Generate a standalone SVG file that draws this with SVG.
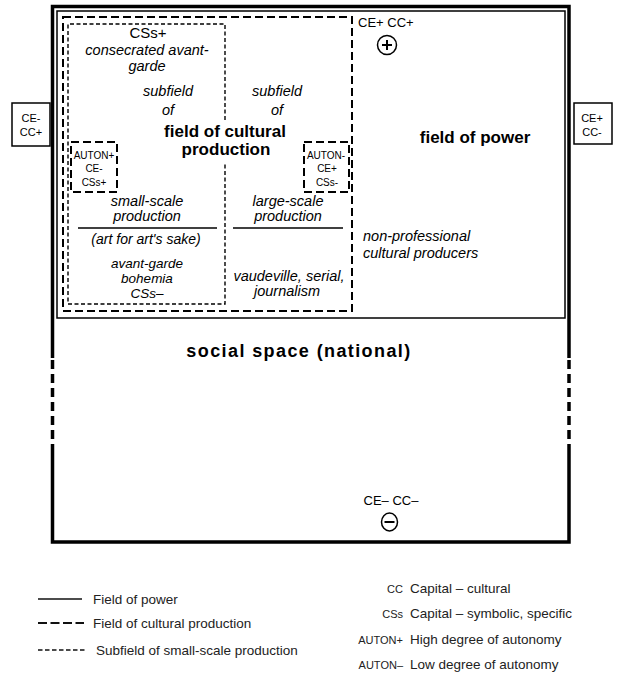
<svg xmlns="http://www.w3.org/2000/svg" width="617" height="676" viewBox="0 0 617 676">
<style>
text{font-family:"Liberation Sans",Arial,sans-serif;fill:#000}
.it{font-style:italic;font-size:14.5px}
.bd{font-weight:bold;font-size:17px}
.sm{font-size:10px}
.lab{font-size:13px}
.leg{font-size:13.5px;fill:#222}
.legs{font-size:11px;fill:#222}
.thick{fill:none;stroke:#000;stroke-width:3.5}
.thin{fill:none;stroke:#000;stroke-width:1.5}
.dash{fill:none;stroke:#000;stroke-width:2;stroke-dasharray:8 4}
.fine{fill:none;stroke:#000;stroke-width:1.4;stroke-dasharray:4 2.5}
.box{fill:#fff;stroke:#000;stroke-width:1.5}
</style>
<rect width="617" height="676" fill="#fff"/>
<g id="social-space">
  <path class="thick" d="M52.5,358 V6.5 H569 V358 M569,445 V542 H52.5 V445"/>
  <path class="thick" style="stroke-dasharray:9 5" d="M52.5,360 V445 M569,360 V445"/>
  <text class="bd" x="299" y="357" text-anchor="middle" style="font-size:18px;letter-spacing:1.4px">social space (national)</text>
  <text class="lab" x="391" y="505" text-anchor="middle">CE– CC–</text>
  <ellipse cx="389.5" cy="522" rx="8" ry="9" class="thin"/>
  <line x1="384.5" y1="522" x2="394.5" y2="522" stroke="#000" stroke-width="2"/>
</g>
<g id="field-of-power">
  <rect class="thin" x="57" y="11" width="508" height="307"/>
  <text class="bd" x="475" y="143" text-anchor="middle">field of power</text>
  <text class="lab" x="358" y="27">CE+ CC+</text>
  <circle cx="387" cy="45" r="9.5" class="thin"/>
  <path d="M382,45 H392 M387,40 V50" stroke="#000" stroke-width="2"/>
  <text class="it" x="363" y="241">non-professional</text>
  <text class="it" x="363" y="258">cultural producers</text>
</g>
<g id="field-of-cultural-production">
  <rect class="dash" x="63" y="17" width="289" height="294"/>
  <text class="bd" x="225" y="137" text-anchor="middle">field of cultural</text>
  <text class="bd" x="226" y="155" text-anchor="middle">production</text>
  <text class="it" x="277" y="96" text-anchor="middle">subfield</text>
  <text class="it" x="277" y="115" text-anchor="middle">of</text>
  <text class="it" x="288" y="206" text-anchor="middle">large-scale</text>
  <text class="it" x="288" y="221" text-anchor="middle">production</text>
  <line x1="233" y1="228" x2="343" y2="228" stroke="#000" stroke-width="1.5"/>
  <text class="it" x="289" y="281" text-anchor="middle">vaudeville, serial,</text>
  <text class="it" x="287" y="296" text-anchor="middle">journalism</text>
</g>
<g id="subfield-small-scale">
  <path class="fine" d="M225,120 V24 H68 V304 H225 V163"/>
  <text x="148" y="38" text-anchor="middle" style="font-size:15px">CSs+</text>
  <text class="it" x="147" y="55" text-anchor="middle">consecrated avant-</text>
  <text class="it" x="147" y="71" text-anchor="middle">garde</text>
  <text class="it" x="168" y="96" text-anchor="middle">subfield</text>
  <text class="it" x="168" y="115" text-anchor="middle">of</text>
  <text class="it" x="147" y="206" text-anchor="middle">small-scale</text>
  <text class="it" x="147" y="221" text-anchor="middle">production</text>
  <line x1="78" y1="228" x2="217" y2="228" stroke="#000" stroke-width="1.5"/>
  <text class="it" x="146" y="244" text-anchor="middle" style="font-size:14px">(art for art's sake)</text>
  <text class="it" x="147" y="268" text-anchor="middle" style="font-size:13.5px">avant-garde</text>
  <text class="it" x="147" y="283" text-anchor="middle" style="font-size:13.5px">bohemia</text>
  <text class="it" x="147" y="298" text-anchor="middle" style="font-size:13.5px">CSs–</text>
</g>
<g id="auton-plus">
  <rect class="dash" x="71" y="142" width="46" height="50"/>
  <text class="sm" x="94" y="159" text-anchor="middle">AUTON+</text>
  <text class="sm" x="94" y="172" text-anchor="middle">CE-</text>
  <text class="sm" x="94" y="186" text-anchor="middle">CSs+</text>
</g>
<g id="auton-minus">
  <rect class="dash" x="304" y="142" width="45" height="50"/>
  <text class="sm" x="326" y="159" text-anchor="middle">AUTON-</text>
  <text class="sm" x="327" y="172" text-anchor="middle">CE+</text>
  <text class="sm" x="327" y="186" text-anchor="middle">CSs-</text>
</g>
<g id="left-box">
  <rect class="box" x="12" y="103" width="38" height="43"/>
  <text class="sm" x="31" y="122" text-anchor="middle" style="font-size:11px">CE-</text>
  <text class="sm" x="31" y="136" text-anchor="middle" style="font-size:11px">CC+</text>
</g>
<g id="right-box">
  <rect class="box" x="574" y="103" width="38" height="41"/>
  <text class="sm" x="592" y="122" text-anchor="middle" style="font-size:11px">CE+</text>
  <text class="sm" x="592" y="136" text-anchor="middle" style="font-size:11px">CC-</text>
</g>
<g id="connectors"></g>
<g id="legend">
  <line x1="38" y1="599" x2="82" y2="599" stroke="#111" stroke-width="1.5"/>
  <text class="leg" x="93" y="604">Field of power</text>
  <line x1="38" y1="623" x2="84" y2="623" stroke="#111" stroke-width="2" stroke-dasharray="9 3.5"/>
  <text class="leg" x="93" y="628">Field of cultural production</text>
  <line x1="38" y1="650" x2="86" y2="650" stroke="#111" stroke-width="1.4" stroke-dasharray="4.5 2.5"/>
  <text class="leg" x="96" y="655">Subfield of small-scale production</text>
  <text class="legs" x="403" y="593" text-anchor="end">CC</text>
  <text class="leg" x="410" y="593">Capital – cultural</text>
  <text class="legs" x="403" y="618" text-anchor="end">CSs</text>
  <text class="leg" x="410" y="618">Capital – symbolic, specific</text>
  <text class="legs" x="403" y="644" text-anchor="end">AUTON+</text>
  <text class="leg" x="410" y="644">High degree of autonomy</text>
  <text class="legs" x="403" y="669" text-anchor="end">AUTON–</text>
  <text class="leg" x="410" y="669">Low degree of autonomy</text>
</g>
</svg>
